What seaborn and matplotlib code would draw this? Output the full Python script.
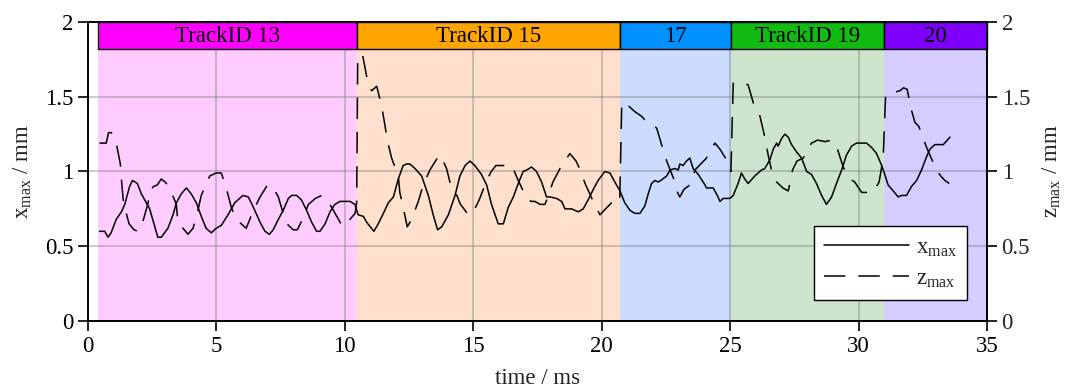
import numpy as np
import pandas as pd
import matplotlib
matplotlib.use("Agg")
import matplotlib.pyplot as plt
from matplotlib.patches import Rectangle
from matplotlib.ticker import FuncFormatter
import seaborn as sns

# ---- data -------------------------------------------------------------
time_x = [0.45, 0.65, 0.78, 0.90, 1.10, 1.30, 1.43, 1.62, 1.73, 1.92, 2.08, 2.27, 2.40, 2.60,
          2.72, 2.85, 3.11, 3.31, 3.44, 3.63, 3.83, 4.02, 4.22, 4.41, 4.60, 4.80, 4.99, 5.19,
          5.45, 5.71, 6.03, 6.24, 6.44, 6.70, 6.89, 7.06, 7.21, 7.41, 7.60, 7.80, 7.93, 8.12,
          8.31, 8.51, 8.71, 8.90, 9.03, 9.23, 9.42, 9.61, 9.81, 10.20, 10.39, 10.52, 10.72,
          10.85, 11.04, 11.13, 11.30, 11.50, 11.69, 11.89, 12.08, 12.27, 12.40, 12.53, 12.73,
          12.99, 13.25, 13.44, 13.61, 13.77, 14.03, 14.29, 14.48, 14.68, 14.87, 15.06, 15.32,
          15.52, 15.71, 15.97, 16.17, 16.36, 16.56, 16.75, 16.94, 17.08, 17.27, 17.46, 17.66,
          17.85, 17.98, 18.24, 18.44, 18.57, 18.83, 19.09, 19.28, 19.47, 19.67, 19.86, 20.12,
          20.32, 20.51, 20.71, 20.90, 21.10, 21.29, 21.49, 21.68, 21.81, 21.94, 22.07, 22.20,
          22.30, 22.53, 22.66, 22.85, 22.98, 23.04, 23.17, 23.30, 23.43, 23.56, 23.76, 24.02,
          24.08, 24.34, 24.53, 24.60, 24.73, 24.99, 25.12, 25.31, 25.44, 25.57, 25.70, 25.96,
          26.22, 26.35, 26.55, 26.68, 26.81, 26.87, 27.00, 27.13, 27.26, 27.39, 27.59, 27.78,
          27.98, 28.17, 28.36, 28.56, 28.75, 28.95, 29.14, 29.34, 29.53, 29.73, 29.92, 30.31,
          30.51, 30.70, 30.90, 31.02, 31.15, 31.35, 31.54, 31.67, 31.87, 32.06, 32.26, 32.45,
          32.65, 32.78, 32.97, 33.30, 33.56]
x_max = [0.60, 0.60, 0.56, 0.59, 0.68, 0.73, 0.78, 0.90, 0.94, 0.92, 0.85, 0.79, 0.75, 0.63,
         0.56, 0.56, 0.62, 0.71, 0.79, 0.85, 0.89, 0.85, 0.79, 0.70, 0.62, 0.59, 0.62, 0.64,
         0.71, 0.79, 0.84, 0.83, 0.76, 0.66, 0.60, 0.58, 0.61, 0.68, 0.74, 0.82, 0.84, 0.84,
         0.81, 0.74, 0.66, 0.60, 0.60, 0.65, 0.73, 0.78, 0.80, 0.80, 0.78, 0.71, 0.70,
         0.66, 0.62, 0.60, 0.65, 0.72, 0.79, 0.83, 0.95, 1.04, 1.05, 1.05, 1.02,
         0.97, 0.84, 0.71, 0.61, 0.63, 0.71, 0.84, 0.97, 1.04, 1.07, 1.04, 0.98,
         0.91, 0.78, 0.65, 0.65, 0.76, 0.83, 0.92, 1.00, 1.01, 1.03, 1.00, 0.93,
         0.83, 0.83, 0.82, 0.80, 0.75, 0.75, 0.73, 0.75, 0.81, 0.88, 0.94, 1.00,
         0.99, 0.93, 0.87, 0.79, 0.74, 0.72, 0.72, 0.77, 0.85, 0.92, 0.94, 0.93,
         0.94, 0.97, 1.01, 1.02, 1.01, 1.05, 1.04, 1.07, 1.09, 1.02, 0.98, 0.91,
         0.89, 0.89, 0.83, 0.80, 0.82, 0.82, 0.84, 0.92, 0.99, 0.95, 0.92, 0.97,
         1.01, 1.02, 1.08, 1.15, 1.19, 1.17, 1.22, 1.25, 1.23, 1.18, 1.13, 1.09,
         1.00, 0.98, 0.92, 0.84, 0.78, 0.83, 0.92, 1.01, 1.11, 1.17, 1.19, 1.19,
         1.16, 1.12, 1.04, 0.98, 0.91, 0.87, 0.83, 0.84, 0.84, 0.90, 0.94, 1.01,
         1.10, 1.15, 1.18, 1.18, 1.23]

time_z = [0.45, 0.71, 0.80, 0.91, 1.10, 1.26, 1.30, 1.37, 1.49, 1.60, 1.79, 1.95, 2.08, 2.34,
          2.40, 2.55, 2.70, 2.85, 3.00, 3.15, 3.44, 3.50, 3.70, 3.89, 4.09, 4.28, 4.41, 4.74,
          4.99, 5.19, 5.38, 5.58, 5.77, 6.16, 6.44, 6.70, 6.95, 7.15, 7.41, 7.60, 7.80, 7.99,
          8.15, 8.38, 8.58, 8.85, 9.10, 9.30, 9.49, 9.88, 10.05, 10.20, 10.40, 10.46, 10.50,
          10.69, 10.90, 10.98, 11.04, 11.24, 11.43, 11.56, 11.65, 11.82, 12.08, 12.14, 12.27,
          12.43, 12.60, 12.86, 13.05, 13.31, 13.60, 13.72, 13.96, 14.09, 14.29, 14.50, 14.68,
          14.80, 14.94, 15.03, 15.23, 15.52, 15.70, 15.88, 16.43, 16.50, 16.75, 17.08, 17.25,
          17.40, 17.60, 17.79, 17.95, 18.10, 18.44, 18.76, 19.00, 19.19, 19.35, 19.67, 19.93,
          20.15, 20.38, 20.60, 20.70, 20.78, 20.90, 21.10, 21.29, 21.55, 21.81, 22.00, 22.14,
          22.40, 22.53, 22.85, 22.95, 23.04, 23.20, 23.43, 23.63, 24.08, 24.25, 24.41, 24.60,
          24.82, 25.03, 25.12, 25.28, 25.50, 25.70, 25.90, 26.16, 26.35, 26.48, 26.61, 26.75,
          26.81, 27.05, 27.26, 27.30, 27.43, 27.60, 27.85, 28.00, 28.17, 28.40, 28.70, 28.95,
          29.14, 29.40, 29.66, 29.85, 30.12, 30.30, 30.44, 30.60, 30.80, 30.92, 30.96, 31.05,
          31.09, 31.40, 31.61, 31.75, 31.89, 32.06, 32.19, 32.35, 32.54, 32.65, 32.75, 33.03,
          33.20, 33.36, 33.53]
z_max = [1.19, 1.19, 1.26, 1.26, 1.19, 1.05, 0.95, 0.81, 0.72, 0.65, 0.61, 0.60, 0.63, 0.79,
         0.87, 0.90, 0.91, 0.95, 0.93, 0.90, 0.78, 0.66, 0.62, 0.58, 0.62, 0.74, 0.84, 0.97,
         0.99, 0.99, 0.89, 0.76, 0.68, 0.62, 0.74, 0.83, 0.90, 0.91, 0.83, 0.72, 0.64, 0.61,
         0.61, 0.69, 0.78, 0.82, 0.84, 0.81, 0.76, 0.64, 0.64, 0.68, 0.72, 0.79, 1.77,
         1.78, 1.59, 1.56, 1.54, 1.57, 1.44, 1.31, 1.21, 1.09, 0.97, 0.86, 0.76,
         0.63, 0.68, 0.80, 0.91, 1.01, 1.09, 1.11, 1.02, 0.93, 0.87, 0.78, 0.74,
         0.71, 0.72, 0.74, 0.81, 0.94, 1.00, 1.04, 1.04, 1.04, 0.94, 0.82, 0.80,
         0.80, 0.78, 0.78, 0.85, 0.93, 1.04, 1.12, 1.07, 1.00, 0.92, 0.80, 0.71,
         0.75, 0.79, 0.78, 0.80, 1.46, 1.46, 1.43, 1.40, 1.37, 1.32, 1.31, 1.29,
         1.14, 1.07, 0.93, 0.86, 0.83, 0.88, 0.91, 1.01, 1.09, 1.15, 1.19, 1.15,
         1.09, 1.00, 1.59, 1.58, 1.59, 1.58, 1.46, 1.37, 1.23, 1.11, 1.01, 0.95,
         0.93, 0.89, 0.87, 0.90, 1.01, 1.07, 1.09, 1.15, 1.19, 1.21, 1.20, 1.21,
         1.17, 1.03, 0.95, 0.93, 0.86, 0.86, 0.87, 0.87, 0.93, 1.05, 1.10, 1.50,
         1.52, 1.53, 1.54, 1.56, 1.55, 1.41, 1.33, 1.30, 1.21, 1.16, 1.12, 1.01,
         0.97, 0.94, 0.92]

track_labels = ["TrackID 13", "TrackID 15", "17", "TrackID 19", "20"]
track_bounds = [0.40, 10.48, 20.70, 25.03, 31.00, 35.00]
track_colors = ["#FF00FF", "#FFA500", "#0090FF", "#12BB12", "#8000FF"]
band_colors = ["#FFCCFF", "#FFE0CC", "#CCDCFF", "#CDE5CD", "#D5CCFF"]

x_ticks = [0, 5, 10, 15, 20, 25, 30, 35]
y_ticks = [0, 0.5, 1, 1.5, 2]

# ---- style ------------------------------------------------------------
sns.set_theme(style="ticks")
plt.rcParams["font.family"] = ["Liberation Serif", "DejaVu Serif"]
plt.rcParams["mathtext.fontset"] = "custom"
plt.rcParams["mathtext.rm"] = "Liberation Serif"
FS = 16.5

fig = plt.figure(figsize=(10.67, 3.88), dpi=100)
ax = fig.add_axes([88 / 1067, 1 - 321 / 388, (987 - 88) / 1067, (321 - 22) / 388])

ymax = 2.0
bar_bottom = 1.82

# background bands and track header boxes
for i, lab in enumerate(track_labels):
    x0, x1 = track_bounds[i], track_bounds[i + 1]
    ax.axvspan(x0, x1, ymin=0, ymax=bar_bottom / ymax, color=band_colors[i], lw=0, zorder=0)
    ax.add_patch(Rectangle((x0, bar_bottom), x1 - x0, ymax - bar_bottom,
                           facecolor=track_colors[i], edgecolor="black", lw=1.0,
                           zorder=5, clip_on=False))
    ax.text((x0 + x1) / 2, (bar_bottom + ymax) / 2 - 0.005, lab, ha="center", va="center",
            fontsize=FS, color="black", zorder=6)

# grid on top of bands
for xv in x_ticks[1:-1]:
    ax.plot([xv, xv], [0, bar_bottom], color="0.45", alpha=0.35, lw=1.5, zorder=1)
for yv in y_ticks[1:-1]:
    ax.axhline(yv, color="0.45", alpha=0.35, lw=1.5, zorder=1)

df_x = pd.DataFrame({"time": time_x, "value": x_max})
df_z = pd.DataFrame({"time": time_z, "value": z_max})
sns.lineplot(data=df_x, x="time", y="value", ax=ax, color="black", lw=1.1,
             label=r"x$_\mathregular{max}$", zorder=3, sort=False)
sns.lineplot(data=df_z, x="time", y="value", ax=ax, color="black", lw=1.1,
             linestyle=(0, (14, 8.5)), label=r"z$_\mathregular{max}$", zorder=3, sort=False)

ax.set_xlim(0, 35)
ax.set_ylim(0, ymax)
ax.set_xticks(x_ticks)
ax.set_yticks(y_ticks)
fmt = FuncFormatter(lambda v, p: f"{v:g}")
ax.yaxis.set_major_formatter(fmt)
ax.set_xlabel("time / ms", fontsize=FS, labelpad=8)
ax.set_ylabel(r"x$_\mathregular{max}$ / mm", fontsize=FS, labelpad=8)
ax.tick_params(axis="both", direction="out", length=7, width=1.2, labelsize=FS, color="black",
               labelcolor="black")
for s in ax.spines.values():
    s.set_color("black")
    s.set_linewidth(1.2)

ax2 = ax.twinx()
ax2.set_ylim(0, ymax)
ax2.set_yticks(y_ticks)
ax2.yaxis.set_major_formatter(fmt)
ax2.set_ylabel(r"z$_\mathregular{max}$ / mm", fontsize=FS, labelpad=7)
ax2.tick_params(axis="y", direction="out", length=7, width=1.2, labelsize=FS, color="black")
for s in ax2.spines.values():
    s.set_color("black")
    s.set_linewidth(1.2)

leg = ax.legend(loc="lower right", bbox_to_anchor=(0.978, 0.070), borderaxespad=0,
                fontsize=FS, frameon=True, fancybox=False, framealpha=1, edgecolor="black",
                handlelength=3.7, borderpad=0.45, labelspacing=0.4, handletextpad=0.3)
leg.get_frame().set_linewidth(1.0)
leg.set_zorder(10)

fig.savefig("out.png", dpi=100)
